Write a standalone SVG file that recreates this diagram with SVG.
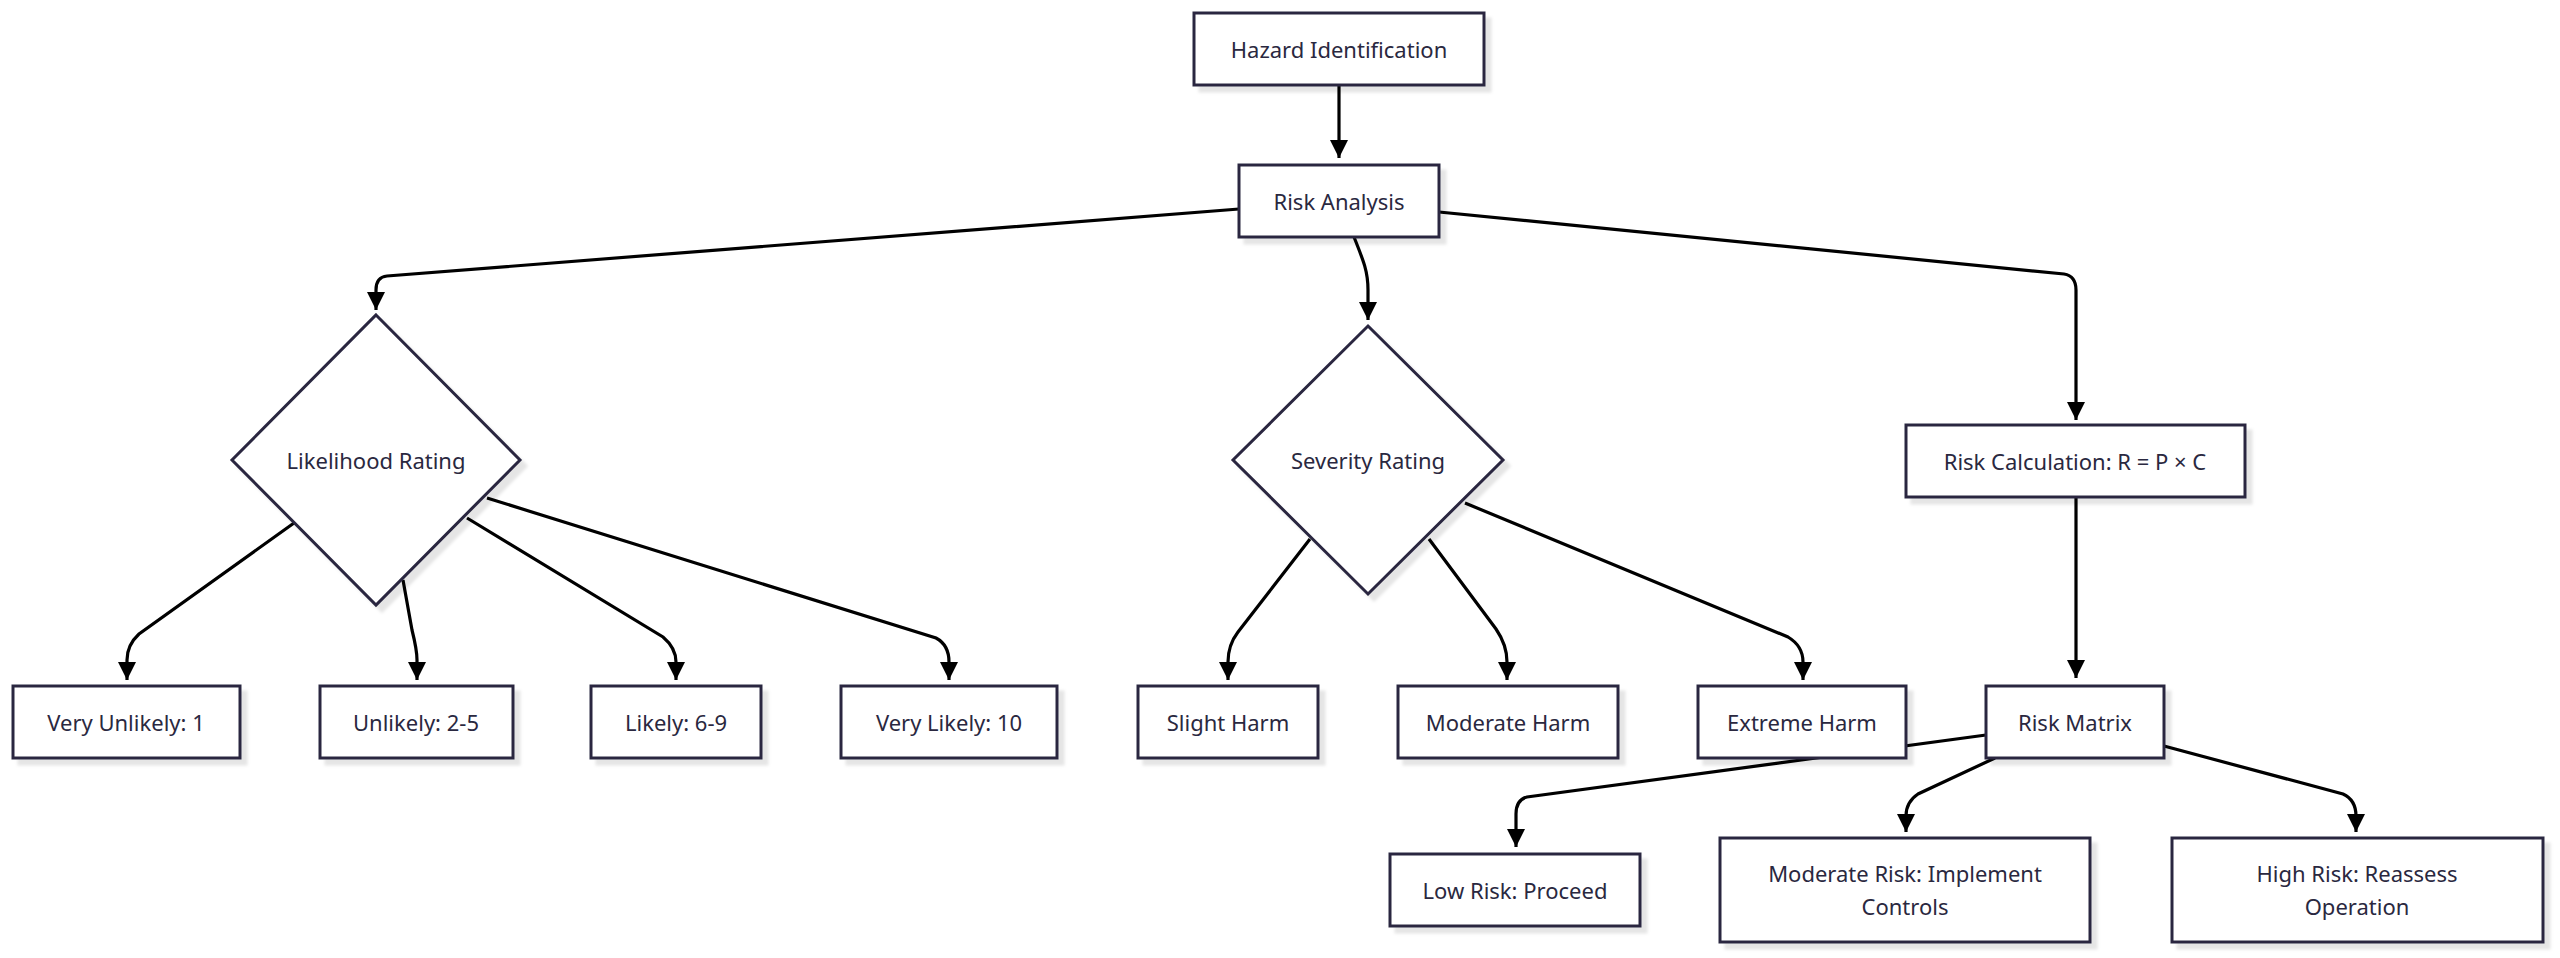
<svg xmlns="http://www.w3.org/2000/svg" width="2560" height="958" viewBox="0 0 2560 958">
<defs>
<marker id="arr" markerUnits="userSpaceOnUse" markerWidth="20" markerHeight="20" viewBox="0 0 20 20" refX="18" refY="10" orient="auto"><path d="M0,1 L18,10 L0,19 Z" fill="#000"/></marker>
<filter id="sh" x="-10%" y="-10%" width="130%" height="140%"><feDropShadow dx="6" dy="6" stdDeviation="1.5" flood-color="#000" flood-opacity="0.1"/></filter>
<style>
.n{fill:#fff;stroke:#2a2840;stroke-width:3;filter:url(#sh)}
.t{font-family:"Noto Sans","Liberation Sans",sans-serif;font-size:22px;fill:#2a2840;text-anchor:middle;dominant-baseline:central}
.e{fill:none;stroke:#000;stroke-width:3.2;marker-end:url(#arr)}
</style>
</defs>
<rect width="2560" height="958" fill="#fff"/>
<g id="edges">
<path class="e" d="M1339,85 L1339,158"/>
<path class="e" d="M1239,209 L387,276 Q376,277 376,290 L376,310"/>
<path class="e" d="M1354,237 C1364,262 1368,272 1368,290 L1368,320"/>
<path class="e" d="M1439,212 L2064,274 Q2076,276 2076,290 L2076,420"/>
<path class="e" d="M294,523 L139,634 Q127,645 127,660 L127,680"/>
<path class="e" d="M403,580 L412,630 Q417,650 417,660 L417,680"/>
<path class="e" d="M467,518 L663,637 Q676,648 676,662 L676,680"/>
<path class="e" d="M487,498 L936,638 Q949,645 949,662 L949,680"/>
<path class="e" d="M1310,539 L1238,632 Q1228,645 1228,662 L1228,680"/>
<path class="e" d="M1429,539 L1496,629 Q1507,645 1507,662 L1507,680"/>
<path class="e" d="M1465,503 L1788,637 Q1803,646 1803,662 L1803,680"/>
<path class="e" d="M2076,497 L2076,678"/>
<path class="e" d="M1986,735 L1527,797 Q1516,800 1516,814 L1516,847"/>
<path class="e" d="M1995,758 L1918,794 Q1906,802 1906,816 L1906,832"/>
<path class="e" d="M2164,746 L2343,794 Q2356,800 2356,816 L2356,832"/>
</g>
<g id="hazard"><rect class="n" x="1194" y="13" width="290" height="72"/><text class="t" x="1339" y="49">Hazard Identification</text></g>
<g id="risk-analysis"><rect class="n" x="1239" y="165" width="200" height="72"/><text class="t" x="1339" y="201">Risk Analysis</text></g>
<g id="likelihood"><path class="n" d="M376,315 L520,460 L376,605 L232,460 Z"/><text class="t" x="376" y="460">Likelihood Rating</text></g>
<g id="severity"><path class="n" d="M1368,326 L1503,460 L1368,594 L1233,460 Z"/><text class="t" x="1368" y="460">Severity Rating</text></g>
<g id="risk-calc"><rect class="n" x="1906" y="425" width="339" height="72"/><text class="t" x="2075" y="461">Risk Calculation: R = P × C</text></g>
<g id="very-unlikely"><rect class="n" x="13" y="686" width="227" height="72"/><text class="t" x="126" y="722">Very Unlikely: 1</text></g>
<g id="unlikely"><rect class="n" x="320" y="686" width="193" height="72"/><text class="t" x="416" y="722">Unlikely: 2-5</text></g>
<g id="likely"><rect class="n" x="591" y="686" width="170" height="72"/><text class="t" x="676" y="722">Likely: 6-9</text></g>
<g id="very-likely"><rect class="n" x="841" y="686" width="216" height="72"/><text class="t" x="949" y="722">Very Likely: 10</text></g>
<g id="slight"><rect class="n" x="1138" y="686" width="180" height="72"/><text class="t" x="1228" y="722">Slight Harm</text></g>
<g id="moderate-harm"><rect class="n" x="1398" y="686" width="220" height="72"/><text class="t" x="1508" y="722">Moderate Harm</text></g>
<g id="extreme"><rect class="n" x="1698" y="686" width="208" height="72"/><text class="t" x="1802" y="722">Extreme Harm</text></g>
<g id="risk-matrix"><rect class="n" x="1986" y="686" width="178" height="72"/><text class="t" x="2075" y="722">Risk Matrix</text></g>
<g id="low-risk"><rect class="n" x="1390" y="854" width="250" height="72"/><text class="t" x="1515" y="890">Low Risk: Proceed</text></g>
<g id="moderate-risk"><rect class="n" x="1720" y="838" width="370" height="104"/><text class="t" x="1905" y="873">Moderate Risk: Implement</text><text class="t" x="1905" y="906">Controls</text></g>
<g id="high-risk"><rect class="n" x="2172" y="838" width="371" height="104"/><text class="t" x="2357" y="873">High Risk: Reassess</text><text class="t" x="2357" y="906">Operation</text></g>
</svg>
